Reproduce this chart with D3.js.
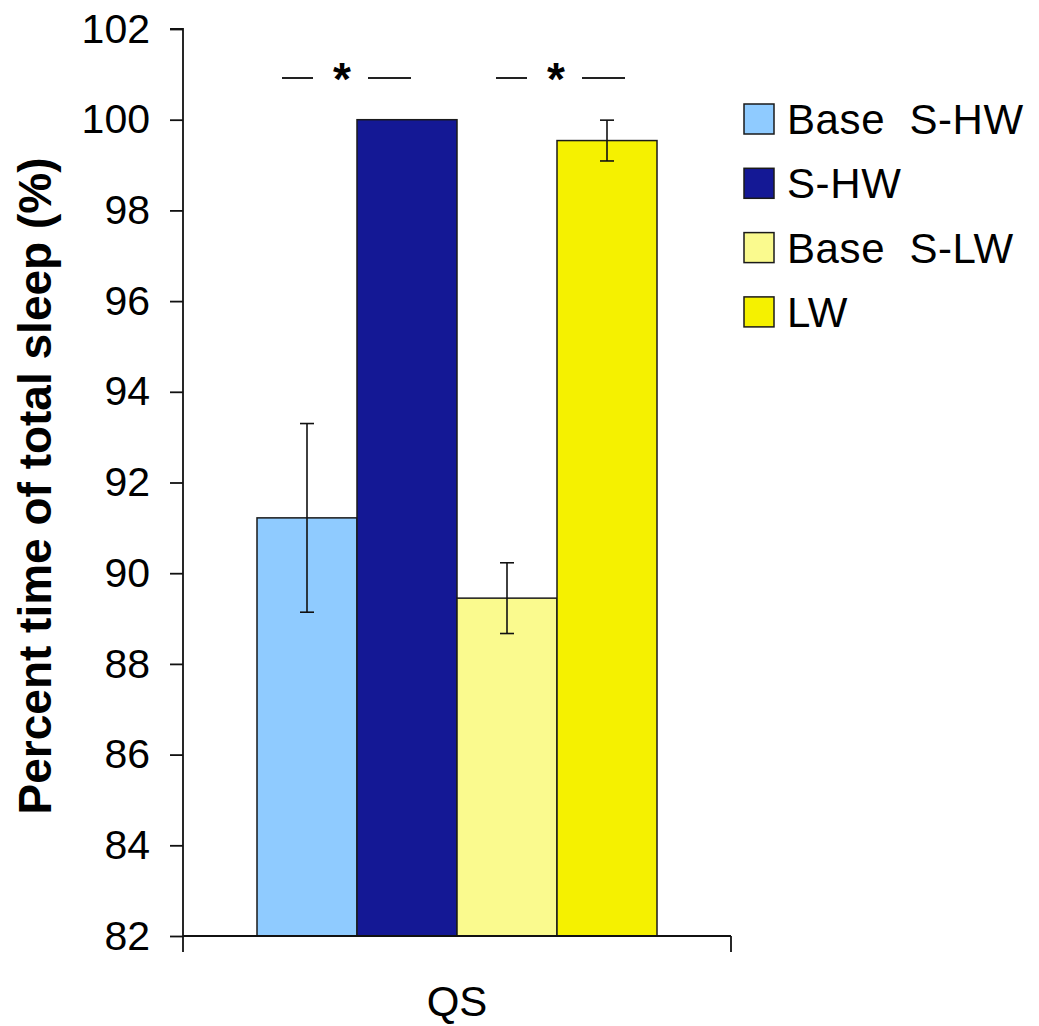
<!DOCTYPE html>
<html>
<head>
<meta charset="utf-8">
<script src="https://cdn.jsdelivr.net/npm/d3@7"></script>
<style>
  html, body { margin: 0; padding: 0; background: #fff; }
  svg { display: block; font-family: Arial, "Liberation Sans", Helvetica, sans-serif; }
</style>
</head>
<body>
<svg id="chart" width="1039" height="1026"></svg>
<script>
// Sleep-state data: percent of total sleep spent in quiet sleep (QS)
const categories = ["QS"];
const seriesNames = ["Base S-HW", "S-HW", "Base S-LW", "LW"];
const seriesValues = [91.22, 100.0, 89.45, 99.54];
const seriesErrors = [2.08, 0, 0.78, 0.45];
const seriesColors = ["#8fcbff", "#141895", "#fafa8e", "#f5f100"];
const yTicks = [82, 84, 86, 88, 90, 92, 94, 96, 98, 100, 102];
const significancePairs = [
  { pair: ["Base S-HW", "S-HW"], shift: -15 },
  { pair: ["Base S-LW", "LW"], shift: -1 }
];

const svg = d3.select("#chart");
const plot = { left: 183, right: 731, top: 29, bottom: 936 };

const y = d3.scaleLinear().domain([82, 102]).range([plot.bottom, plot.top]);
const x0 = d3.scaleBand().domain(categories).range([plot.left, plot.right])
  .paddingInner(0).paddingOuter(0.185);
const x1 = d3.scaleBand().domain(seriesNames).range([0, x0.bandwidth()]).padding(0);

const rows = seriesNames.map((name, i) => ({
  cat: categories[0], name, value: seriesValues[i], err: seriesErrors[i], color: seriesColors[i]
}));

// Bars
const g = svg.append("g");
g.selectAll("rect.bar").data(rows).join("rect")
  .attr("class", "bar")
  .attr("x", d => x0(d.cat) + x1(d.name))
  .attr("y", d => y(d.value))
  .attr("width", x1.bandwidth())
  .attr("height", d => y(82) - y(d.value))
  .attr("fill", d => d.color)
  .attr("stroke", "#1a1a1a")
  .attr("stroke-width", 1.5);

// Error bars
const capHalf = 7;
const eb = g.selectAll("g.err").data(rows.filter(d => d.err > 0)).join("g")
  .attr("class", "err")
  .attr("stroke", "#111")
  .attr("stroke-width", 1.6);
eb.append("line")
  .attr("x1", d => x0(d.cat) + x1(d.name) + x1.bandwidth() / 2)
  .attr("x2", d => x0(d.cat) + x1(d.name) + x1.bandwidth() / 2)
  .attr("y1", d => y(d.value + d.err))
  .attr("y2", d => y(d.value - d.err));
[1, -1].forEach(s => {
  eb.append("line")
    .attr("x1", d => x0(d.cat) + x1(d.name) + x1.bandwidth() / 2 - capHalf)
    .attr("x2", d => x0(d.cat) + x1(d.name) + x1.bandwidth() / 2 + capHalf)
    .attr("y1", d => y(d.value + s * d.err))
    .attr("y2", d => y(d.value + s * d.err));
});

// Y axis
const yAxis = svg.append("g")
  .attr("transform", `translate(${plot.left},0)`)
  .call(d3.axisLeft(y).tickValues(yTicks).tickSize(13).tickPadding(20).tickFormat(d3.format("d")));
yAxis.select(".domain").attr("stroke", "#111").attr("stroke-width", 1.8)
  .attr("d", `M-13,${plot.top}H0V${plot.bottom}`);
yAxis.selectAll(".tick line").attr("stroke", "#111").attr("stroke-width", 1.8);
yAxis.selectAll(".tick text").attr("font-size", 41).attr("fill", "#000")
  .attr("font-family", "Arial, 'Liberation Sans', sans-serif");

// X axis: ticks mark the category boundaries
const xAxis = svg.append("g").attr("transform", `translate(0,${plot.bottom})`);
xAxis.append("line").attr("x1", plot.left).attr("x2", plot.right)
  .attr("stroke", "#111").attr("stroke-width", 1.8);
xAxis.selectAll("line.bnd").data([plot.left, plot.right]).join("line")
  .attr("class", "bnd")
  .attr("x1", d => d).attr("x2", d => d).attr("y1", 0).attr("y2", 16)
  .attr("stroke", "#111").attr("stroke-width", 1.8);
xAxis.selectAll("text").data(categories).join("text")
  .attr("x", d => x0(d) + x0.bandwidth() / 2)
  .attr("y", 80)
  .attr("text-anchor", "middle")
  .attr("font-size", 42)
  .attr("fill", "#000")
  .text(d => d);

// Y axis title
svg.append("text")
  .attr("transform", `translate(51,486) rotate(-90)`)
  .attr("text-anchor", "middle")
  .attr("font-size", 46)
  .attr("font-weight", "bold")
  .attr("fill", "#000")
  .text("Percent time of total sleep (%)");

// Significance markers above each pair
const sig = svg.append("g");
significancePairs.forEach(p => {
  const cx = x0(categories[0]) + x1(p.pair[1]) + p.shift;
  const ly = 78;
  sig.append("line").attr("x1", cx - 60).attr("x2", cx - 29).attr("y1", ly).attr("y2", ly)
    .attr("stroke", "#222").attr("stroke-width", 2);
  sig.append("line").attr("x1", cx + 26).attr("x2", cx + 69).attr("y1", ly).attr("y2", ly)
    .attr("stroke", "#222").attr("stroke-width", 2);
  sig.append("text").attr("x", cx).attr("y", 95)
    .attr("text-anchor", "middle").attr("font-size", 46).attr("font-weight", "bold")
    .attr("fill", "#000").text("*");
});

// Legend
const legend = svg.append("g");
const legRows = legend.selectAll("g").data(rows).join("g")
  .attr("transform", (d, i) => `translate(744,${104 + i * 64.3})`);
legRows.append("rect")
  .attr("width", 30).attr("height", 30)
  .attr("fill", d => d.color)
  .attr("stroke", "#1a1a1a").attr("stroke-width", 1.5);
legRows.append("text")
  .attr("x", 43).attr("y", 30)
  .attr("font-size", 42)
  .attr("word-spacing", 12)
  .attr("letter-spacing", 0.6)
  .attr("fill", "#000")
  .text(d => d.name);
</script>
</body>
</html>
